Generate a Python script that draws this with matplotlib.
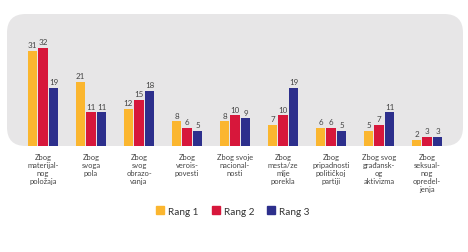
import matplotlib.pyplot as plt
import numpy as np
from matplotlib.patches import FancyBboxPatch, Patch

categories = ['Zbog\nmaterijal-\nnog\npoložaja', 'Zbog\nsvoga\npola', 'Zbog\nsvog\nobrazo-\nvanja',
              'Zbog\nverois-\npovesti', 'Zbog svoje\nnacional-\nnosti', 'Zbog\nmesta/ze\nmlje\nporekla',
              'Zbog\npripadnosti\npolitičkoj\npartiji', 'Zbog svog\ngrađansk-\nog\naktivizma',
              'Zbog\nseksual-\nnog\nopredel-\njenja']
rang1 = [31, 21, 12, 8, 8, 7, 6, 5, 2]
rang2 = [32, 11, 15, 6, 10, 10, 6, 7, 3]
rang3 = [19, 11, 18, 5, 9, 19, 5, 11, 3]
series = [('Rang 1', rang1, '#FBB62F'), ('Rang 2', rang2, '#D7173B'), ('Rang 3', rang3, '#2D2F8C')]

plt.rcParams['font.family'] = ['Lato', 'DejaVu Sans']
W, H = 468, 253
fig = plt.figure(figsize=(W / 100, H / 100), dpi=100)

# grey rounded panel behind the axes
panel = FancyBboxPatch((7 / W, 1 - 147 / H), 456 / W, 132 / H,
                       boxstyle='round,pad=0,rounding_size=0.04', transform=fig.transFigure,
                       facecolor='#E7E6E7', edgecolor='none', mutation_aspect=W / H, zorder=-5)
fig.patches.append(panel)

ax = fig.add_axes([7 / W, 1 - 147 / H, 456 / W, 132 / H])
ax.set_axis_off()
ax.patch.set_alpha(0)
x = np.arange(len(categories))
width = 0.19
for k, (name, vals, col) in enumerate(series):
    pos = x + (k - 1) * 0.22
    ax.bar(pos, vals, width, color=col, label=name)
    for px, v in zip(pos, vals):
        ax.text(px, v + 0.9, str(v), ha='center', va='bottom', fontsize=5.8, color='#444444')
ax.set_xlim(-0.75, 8.75)
ax.set_ylim(0, 43.1)

for xi, lab in zip(x, categories):
    ax.annotate(lab, (xi, 0), xytext=(0, -5), textcoords='offset points', ha='center', va='top',
                fontsize=5.4, color='#444444', linespacing=1.15, annotation_clip=False)

handles = [Patch(color=c) for _, _, c in series]
fig.legend(handles, [s[0] for s in series], loc='center', bbox_to_anchor=(0.498, 1 - 212 / H),
           ncol=3, frameon=False, fontsize=7.2, handlelength=0.8, handleheight=0.8,
           handletextpad=0.4, columnspacing=1.3, labelcolor='#333333')

fig.savefig('out.png', dpi=100)
